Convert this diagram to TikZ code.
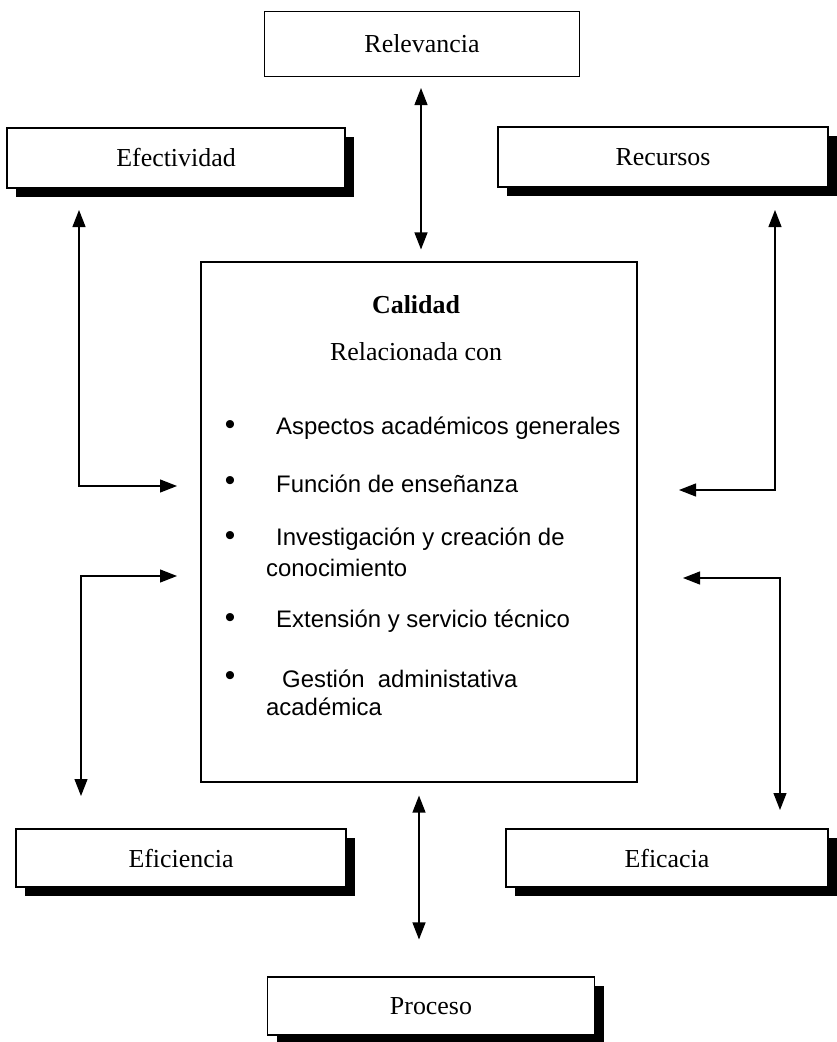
\documentclass[tikz,border=0pt]{standalone}
\usepackage{fontspec}
\setmainfont{Liberation Serif}
\newfontfamily\arialfont{Liberation Sans}
\usetikzlibrary{arrows.meta,shadows}

\begin{document}
\begin{tikzpicture}[x=1bp,y=-1bp,
  every node/.style={inner sep=0pt},
  caja/.style={draw,line width=1.1bp,fill=white,rectangle,minimum width=#1,
    font=\fontsize{26}{31}\selectfont},
  sombra/.style={drop shadow={shadow xshift=9bp,shadow yshift=-9bp,fill=black,opacity=1}},
  flecha/.style={line width=1.2bp,{Triangle[length=17bp,width=13bp]}-{Triangle[length=17bp,width=13bp]}},
  item/.style={anchor=west,font=\arialfont\fontsize{24}{29}\selectfont},
  vineta/.style={font=\arialfont\fontsize{30}{29}\selectfont}]
\useasboundingbox (0,0) rectangle (837,1042);

% cajas de los criterios
\node[caja=315bp,minimum height=65bp] (rel) at (422,44) {Relevancia};
\node[caja=338bp,minimum height=60bp,sombra] (efe) at (176,158) {Efectividad};
\node[caja=330bp,minimum height=60bp,sombra] (rec) at (663,157) {Recursos};
\node[caja=330bp,minimum height=58bp,sombra] (efi) at (181,858) {Eficiencia};
\node[caja=322bp,minimum height=58bp,sombra] (efa) at (667,858) {Eficacia};
\node[caja=327bp,minimum height=58bp,sombra] (pro) at (431,1006) {Proceso};

% caja central
\node[draw,line width=1.1bp,minimum width=436bp,minimum height=520bp] (cal) at (419,522) {};
\node[font=\bfseries\fontsize{26}{31}\selectfont] (tit) at (416,305) {Calidad};
\node[font=\fontsize{26}{31}\selectfont] (sub) at (416,352) {Relacionada con};
\foreach \y in {428,484,539,621,679}
  \node[vineta] (b\y) at (230,\y) {•};
\node[item] (i1) at (276,428) {Aspectos académicos generales};
\node[item] (i2) at (276,484) {Función de enseñanza};
\node[item] (i3) at (276,539) {Investigación y creación de};
\node[item] (i3b) at (266,568) {conocimiento};
\node[item] (i4) at (276,621) {Extensión y servicio técnico};
\node[item] (i5) at (282,679) {Gestión~ administativa};
\node[item] (i5b) at (266,707) {académica};

% extremos de las flechas
\coordinate (l1) at (79,210);
\coordinate (l2) at (177,486);
\coordinate (l3) at (177,576);
\coordinate (l4) at (81,796);
\coordinate (r1) at (775,210);
\coordinate (r2) at (679,490);
\coordinate (r3) at (683,578);
\coordinate (r4) at (780,810);

\draw[flecha,shorten <=11bp,shorten >=12bp] (rel.south -| 421,0) -- (cal.north -| 421,0);
\draw[flecha,shorten <=13bp,shorten >=37bp] (cal.south -| 419,0) -- (pro.north -| 419,0);
\draw[flecha] (l1) |- (l2);
\draw[flecha] (l3) -| (l4);
\draw[flecha] (r1) |- (r2);
\draw[flecha] (r3) -| (r4);
\end{tikzpicture}
\end{document}
